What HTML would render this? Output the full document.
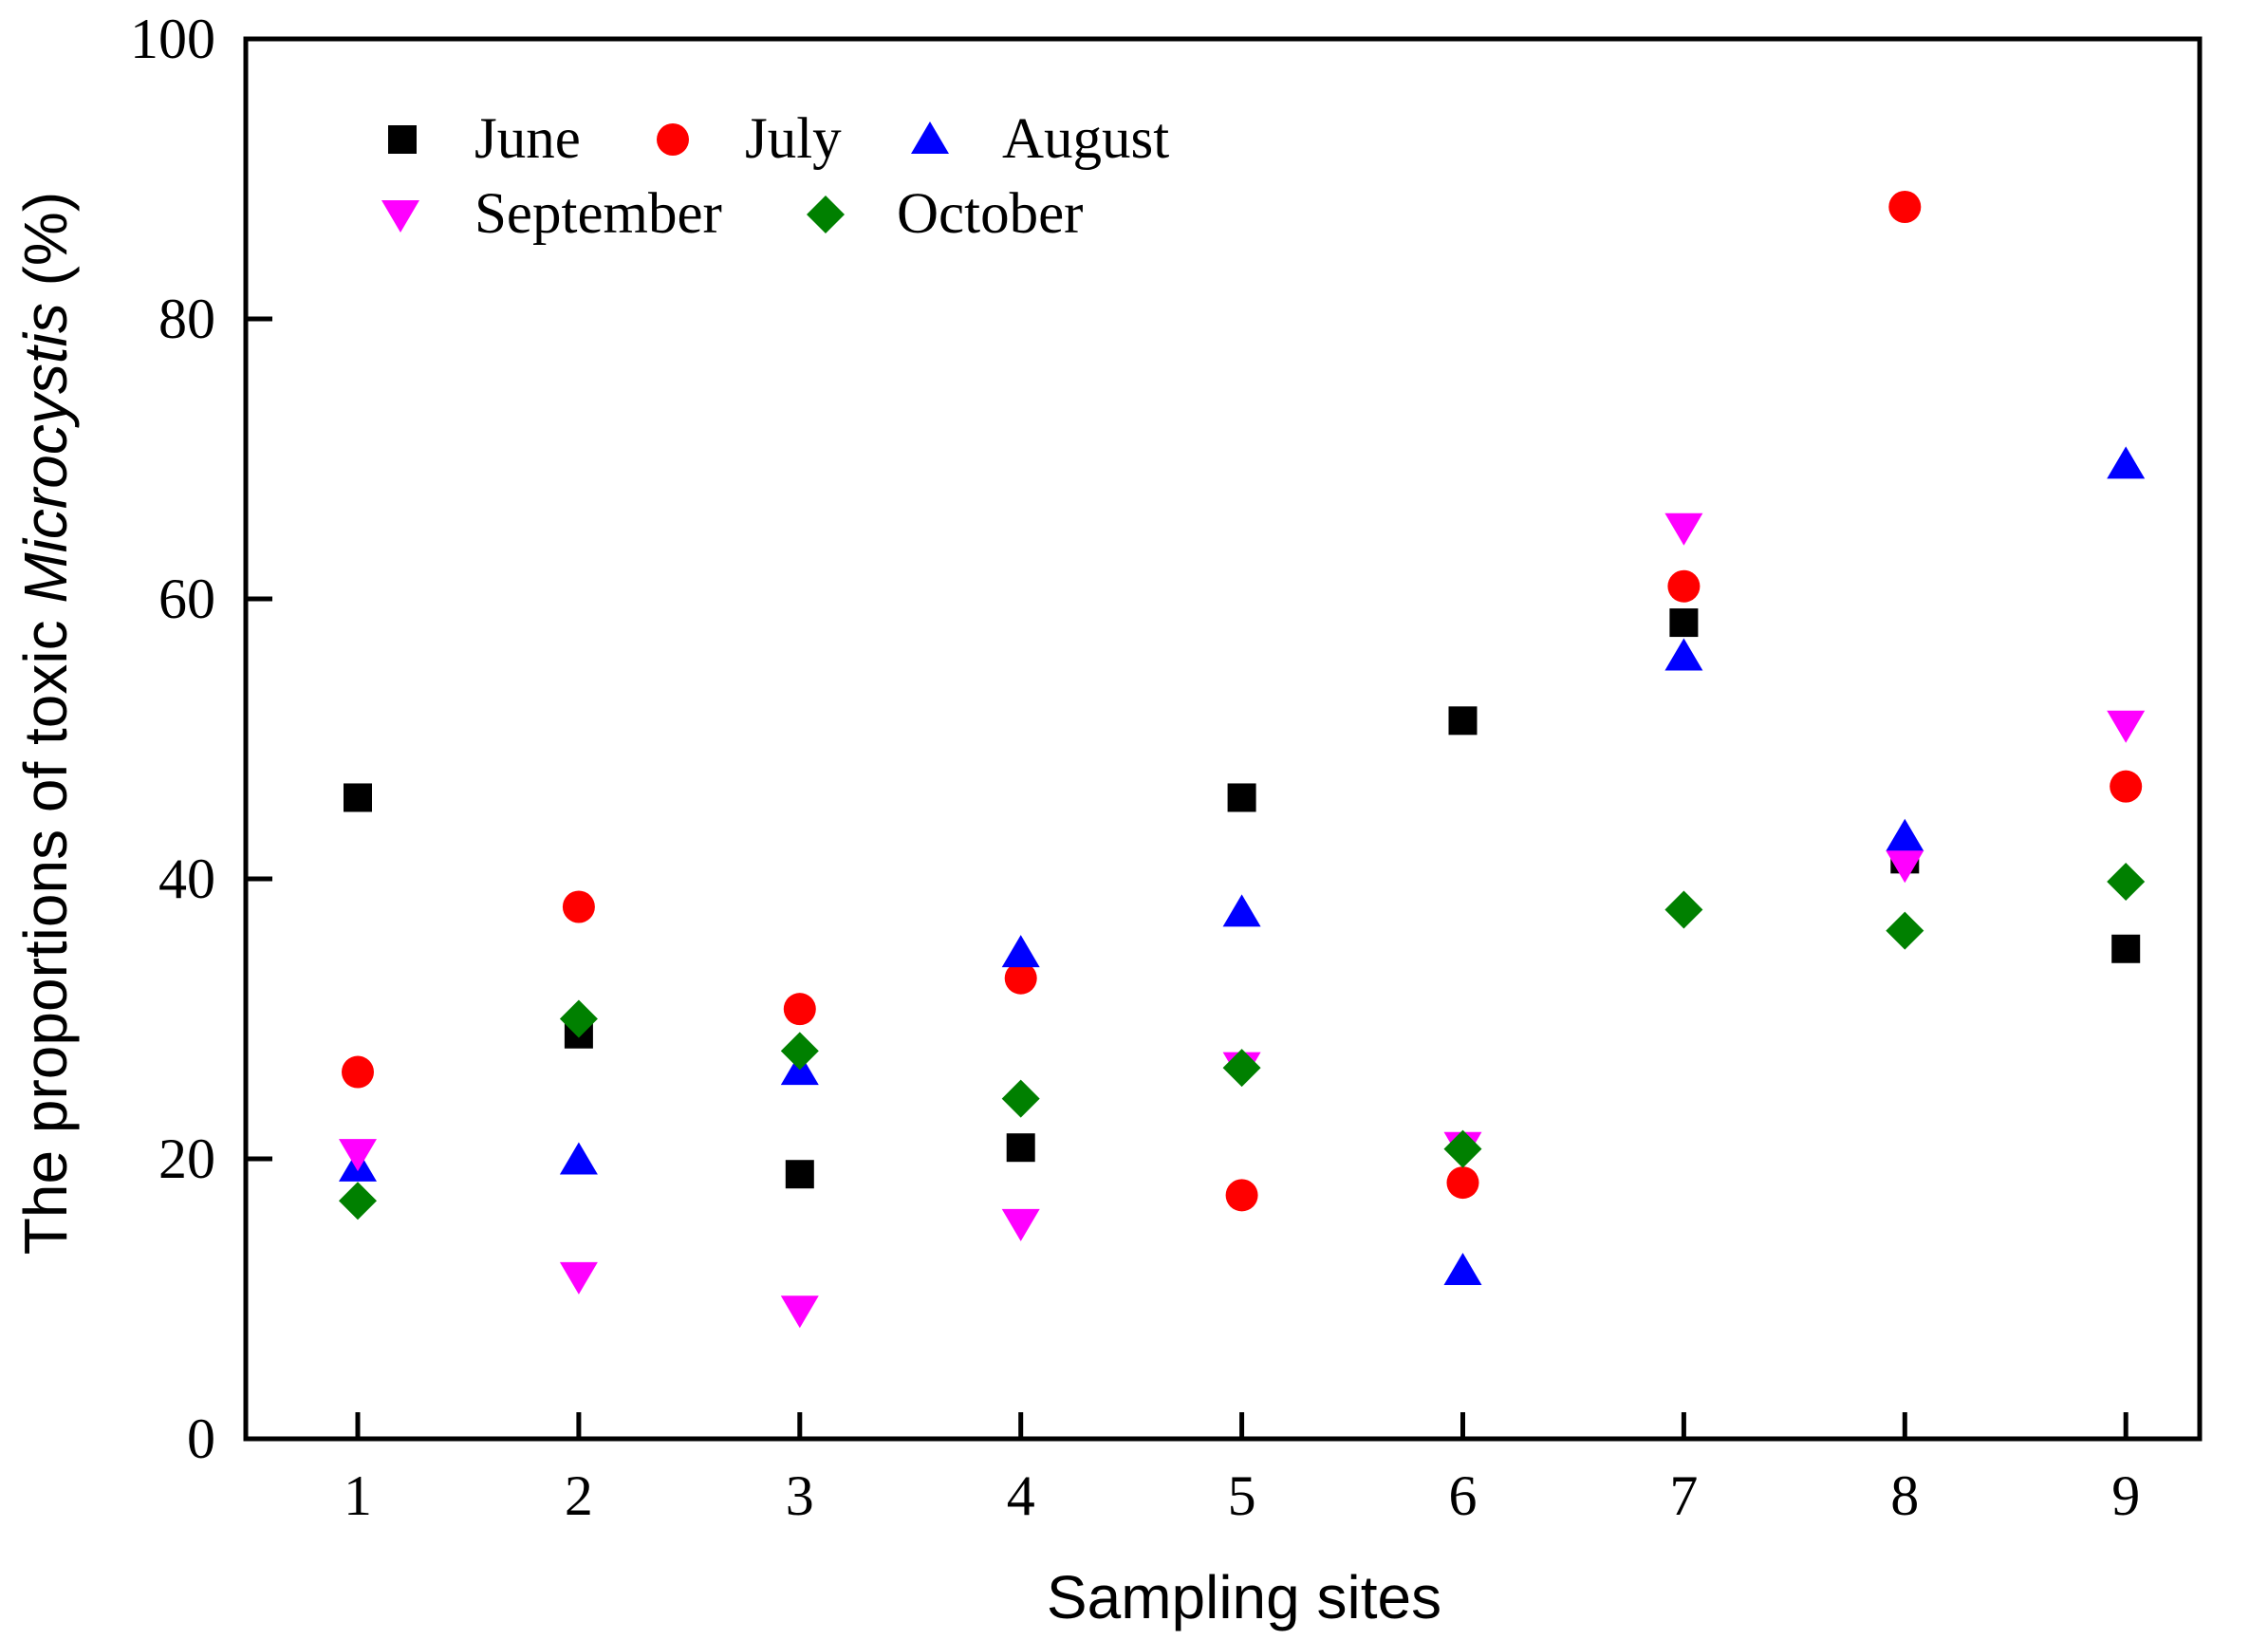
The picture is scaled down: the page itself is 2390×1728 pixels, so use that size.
<!DOCTYPE html>
<html><head><meta charset="utf-8"><style>
html,body{margin:0;padding:0;background:#fff;}
svg{display:block;}
</style></head><body>
<svg id="chart" width="2390" height="1728" viewBox="0 0 2390 1728" xmlns="http://www.w3.org/2000/svg">
<g id="marks"></g>
<g id="axes"></g>
</svg>
<script>
const sites = [1,2,3,4,5,6,7,8,9];
const yTicks = [0,20,40,60,80,100];
const june = [45.8,28.9,18.9,20.8,45.8,51.3,58.3,41.4,35.0];
const july = [26.2,38.0,30.7,32.9,17.4,18.3,60.9,88.0,46.6];
const august = [19.4,19.9,26.3,34.7,37.6,12.0,55.9,43.0,69.6];
const september = [20.4,11.6,9.2,15.4,26.6,20.9,65.1,41.0,51.0];
const october = [17.0,30.0,27.7,24.3,26.5,20.7,37.8,36.3,39.8];
const seriesNames = ['June','July','August','September','October'];

const L=259,R=2318,T=41,B=1516;
const xS = s => 377 + (s-1)*232.9;
const yS = v => B - v*(B-T)/100;
const NS='http://www.w3.org/2000/svg';
function mk(tag, attrs, parent){const e=document.createElementNS(NS,tag);for(const k in attrs)e.setAttribute(k,attrs[k]);parent.appendChild(e);return e;}
const marks=document.getElementById('marks'), axes=document.getElementById('axes');

function marker(type,x,y,parent){
  let e;
  if(type==='square') e=mk('rect',{x:x-15,y:y-15,width:30,height:30,fill:'#000'},parent);
  else if(type==='circle') e=mk('circle',{cx:x,cy:y,r:17,fill:'#ff0000'},parent);
  else if(type==='up') e=mk('polygon',{points:`${x-20},${y+15} ${x+20},${y+15} ${x},${y-19}`,fill:'#0000ff'},parent);
  else if(type==='down') e=mk('polygon',{points:`${x-20},${y-15} ${x+20},${y-15} ${x},${y+19}`,fill:'#ff00ff'},parent);
  else e=mk('polygon',{points:`${x},${y-20} ${x+20},${y} ${x},${y+20} ${x-20},${y}`,fill:'#008000'},parent);
  return e;
}
const defs=[[june,'square'],[july,'circle'],[august,'up'],[september,'down'],[october,'diamond']];
defs.forEach(([arr,type],si)=>{
  arr.forEach((v,i)=>{
    const e=marker(type,xS(sites[i]),yS(v),marks);
    
    
  });
});

let fr=mk('rect',{x:L,y:T,width:R-L,height:B-T,fill:'none',stroke:'#000','stroke-width':5},axes);


sites.forEach(s=>{
  const x=xS(s);
  const t=mk('line',{x1:x,y1:B,x2:x,y2:B-28,stroke:'#000','stroke-width':5},axes);
  
  
  const l=mk('text',{x:x,y:B+80,'text-anchor':'middle','font-family':'Liberation Serif, serif','font-size':60},axes);
  l.textContent=s;
  
  
});
yTicks.forEach(v=>{
  const y=yS(v);
  const t=mk('line',{x1:L,y1:y,x2:L+28,y2:y,stroke:'#000','stroke-width':5},axes);
  
  
  const l=mk('text',{x:L-32,y:y+20,'text-anchor':'end','font-family':'Liberation Serif, serif','font-size':60},axes);
  l.textContent=v;
  
  
});
const xt=mk('text',{x:1311,y:1705,'text-anchor':'middle','font-family':'Liberation Sans, sans-serif','font-size':64},axes);
xt.textContent='Sampling sites';


const yt=mk('text',{x:0,y:0,'text-anchor':'middle','font-family':'Liberation Sans, sans-serif','font-size':64,transform:'translate(70,762) rotate(-90)'},axes);
yt.innerHTML='The proportions of toxic <tspan font-style="italic">Microcystis</tspan>  (%)';



const leg=[['square',424,147,'June',500],['circle',709,147,'July',785],['up',980,147,'August',1056],['down',422,226,'September',500],['diamond',870,226,'October',945]];
leg.forEach(([type,mx,my,label,tx])=>{
  const g=mk('g',{},axes);
  
  
  marker(type,mx,my,g);
  const t=mk('text',{x:tx,y:my+19,'font-family':'Liberation Serif, serif','font-size':61},g);
  t.textContent=label;
});
</script>
</body></html>
